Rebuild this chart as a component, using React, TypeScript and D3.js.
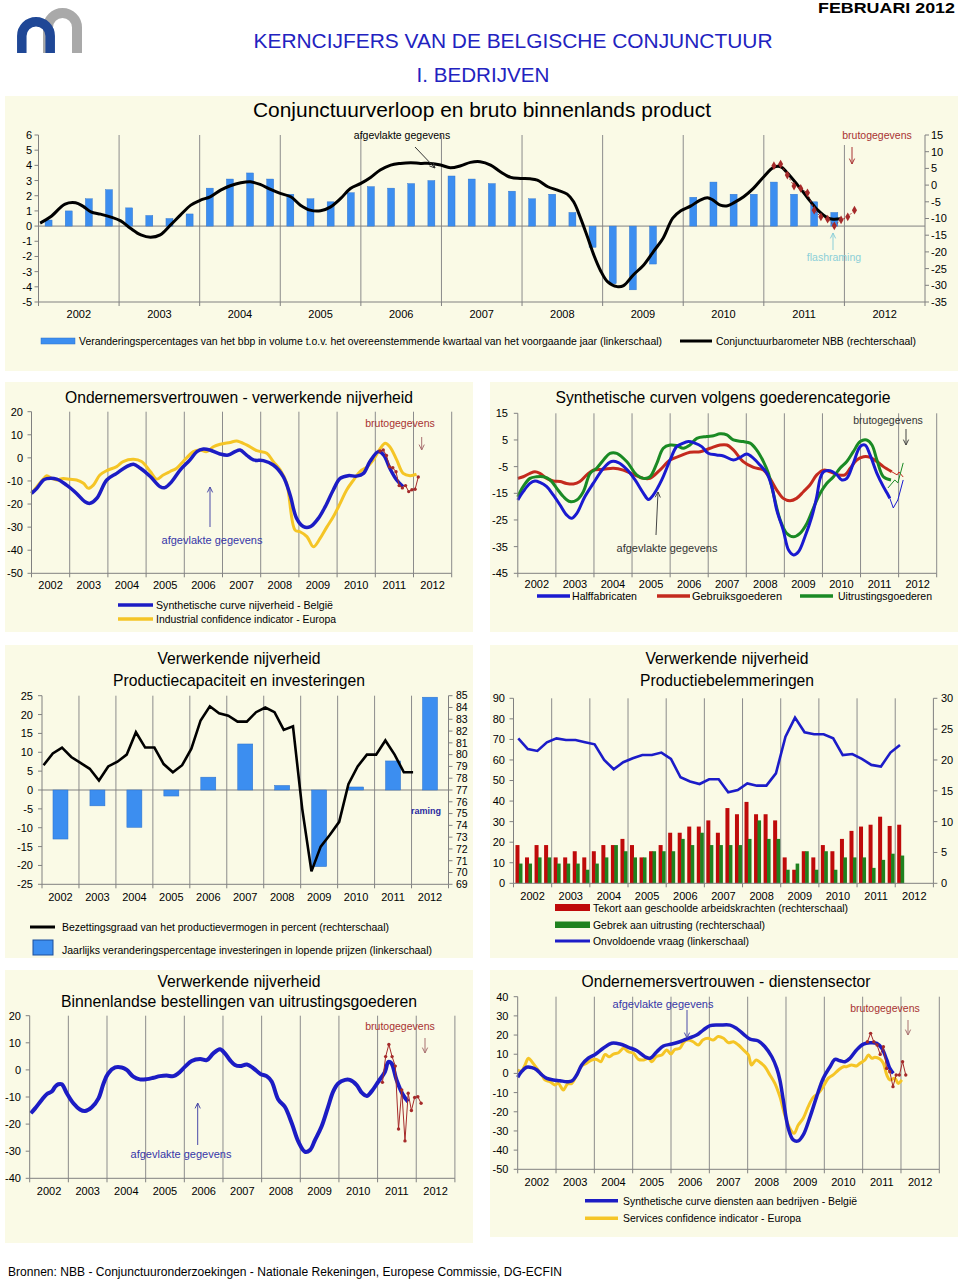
import React from "react";
import * as d3 from "d3";

const FONT = "'Liberation Sans', Arial, Helvetica, sans-serif";
const BG = "#fafae6";
const AXIS = "#808080";
const GRIDC = "#8c8c8c";
const RAW = "#a52a2a";
const BLUE_TXT = "#3636a8";
const BAR_BLUE = "#3c8ef0";

type Pt = [number, number];

// ---------------- DATA ----------------
const YEARS = [2002, 2003, 2004, 2005, 2006, 2007, 2008, 2009, 2010, 2011, 2012];

// Panel 1: GDP y/y quarterly 2002Q1..2011Q4 (left scale)
const gdpQ = [0.4, 1.0, 1.8, 2.4, 1.2, 0.7, 0.5, 0.8, 2.5, 3.1, 3.5, 3.1, 2.1, 1.8, 1.6, 2.2, 2.6, 2.5, 2.8, 3.0,
  3.3, 3.1, 2.8, 2.3, 1.8, 2.1, 0.9, -1.4, -3.8, -4.2, -2.5, 0, 1.9, 2.9, 2.1, 2.1, 2.9, 2.1, 1.6, 0.9];
// Conjunctuurbarometer NBB smoothed (right scale)
const baro: Pt[] = [[2002.02, -11.4], [2002.15, -9.5], [2002.33, -5.7], [2002.46, -5.3], [2002.55, -6.3], [2002.65, -8.0], [2002.77, -8.7], [2002.89, -9.5], [2003.02, -10.7], [2003.14, -12.9], [2003.27, -14.9], [2003.39, -15.6], [2003.51, -14.9], [2003.64, -11.9], [2003.76, -9.0], [2003.89, -6.0], [2004.01, -4.5], [2004.13, -3.5], [2004.26, -1.5], [2004.38, -0.2], [2004.51, 0.7], [2004.63, 1.0], [2004.75, 0.2], [2004.88, -1.3], [2005.00, -2.5], [2005.13, -3.5], [2005.25, -6.0], [2005.37, -7.5], [2005.50, -7.7], [2005.62, -6.6], [2005.75, -4.0], [2005.87, -1.0], [2006.00, 0.5], [2006.12, 2.3], [2006.24, 4.5], [2006.37, 6.0], [2006.49, 6.5], [2006.62, 6.7], [2006.74, 6.5], [2006.86, 6.5], [2006.99, 6.0], [2007.11, 5.2], [2007.24, 5.8], [2007.36, 6.8], [2007.48, 7.0], [2007.61, 6.0], [2007.73, 4.0], [2007.86, 2.3], [2007.98, 2.0], [2008.10, 1.9], [2008.19, 1.5], [2008.32, -0.5], [2008.44, -1.5], [2008.56, -2.7], [2008.64, -5.0], [2008.72, -9.5], [2008.81, -15.4], [2008.89, -20.9], [2008.97, -25.4], [2009.06, -28.9], [2009.18, -30.4], [2009.26, -30.1], [2009.38, -26.9], [2009.51, -23.9], [2009.63, -19.9], [2009.75, -15.9], [2009.87, -9.9], [2009.97, -7.7], [2010.09, -6.3], [2010.21, -4.5], [2010.30, -3.8], [2010.37, -4.5], [2010.46, -6.0], [2010.55, -6.2], [2010.62, -5.4], [2010.75, -3.5], [2010.87, -1.0], [2011.00, 2.5], [2011.12, 5.3], [2011.21, 5.5], [2011.29, 3.7], [2011.42, 0.0], [2011.54, -3.7], [2011.67, -7.5], [2011.79, -9.8], [2011.86, -10.2], [2011.95, -10.1]];
// raw monthly Feb 2011..Feb 2012
const baroRaw = [5.8, 6.3, 3.0, -0.3, -1.0, -2.3, -7.5, -9.5, -10.2, -12.2, -10.4, -9.5, -7.5];

// Panel 2
const mfgBE: Pt[] = [[2002.00, -15.4], [2002.14, -13.2], [2002.31, -9.6], [2002.40, -9.0], [2002.66, -9.2], [2002.92, -11.8], [2003.18, -15.4], [2003.40, -19.0], [2003.53, -19.7], [2003.71, -17.5], [2003.97, -9.6], [2004.23, -6.7], [2004.49, -3.8], [2004.67, -2.8], [2004.85, -4.5], [2005.11, -8.1], [2005.37, -12.5], [2005.49, -12.9], [2005.67, -10.3], [2005.89, -5.3], [2006.15, -0.9], [2006.33, 2.7], [2006.50, 3.8], [2006.67, 3.4], [2006.93, 1.7], [2007.15, 1.2], [2007.33, 2.7], [2007.46, 3.4], [2007.63, 1.2], [2007.81, -0.9], [2008.07, -1.2], [2008.33, -3.1], [2008.59, -8.1], [2008.77, -16.1], [2008.94, -26.2], [2009.12, -29.8], [2009.30, -29.8], [2009.51, -26.2], [2009.69, -21.1], [2009.90, -13.9], [2010.08, -8.9], [2010.29, -7.7], [2010.51, -7.9], [2010.69, -6.7], [2010.86, -1.6], [2011.08, 2.7], [2011.22, 1.2], [2011.38, -4.5], [2011.56, -9.6], [2011.73, -12.5]];
const mfgEU: Pt[] = [[2002.00, -15.4], [2002.14, -12.5], [2002.31, -9.2], [2002.40, -7.7], [2002.53, -8.9], [2002.66, -9.6], [2002.83, -8.9], [2003.01, -9.3], [2003.18, -9.6], [2003.36, -11.0], [2003.49, -13.2], [2003.62, -11.8], [2003.79, -7.4], [2003.97, -5.5], [2004.23, -3.8], [2004.40, -1.6], [2004.67, -0.6], [2004.88, -1.6], [2005.11, -5.9], [2005.28, -9.2], [2005.45, -7.4], [2005.63, -5.9], [2005.80, -4.5], [2005.97, -1.6], [2006.24, 2.7], [2006.41, 3.4], [2006.59, 2.7], [2006.76, 4.8], [2006.94, 5.9], [2007.20, 6.7], [2007.37, 7.3], [2007.63, 5.6], [2007.90, 3.1], [2008.16, 2.0], [2008.33, -1.6], [2008.51, -5.2], [2008.68, -11.0], [2008.90, -31.3], [2009.03, -32.0], [2009.21, -34.1], [2009.38, -38.5], [2009.55, -35.0], [2009.73, -30.0], [2009.90, -25.5], [2010.08, -19.7], [2010.25, -13.9], [2010.43, -9.6], [2010.60, -5.9], [2010.78, -4.0], [2010.95, -0.9], [2011.13, 4.1], [2011.26, 6.3], [2011.38, 4.8], [2011.56, -0.9], [2011.73, -6.7], [2011.91, -7.7], [2012.08, -7.1]];
const mfgRaw = [3.0, 3.4, 1.0, -3.9, -4.3, -6.0, -12.0, -13.0, -12.0, -14.6, -13.8, -13.6, -8.3];

// Panel 3
const halfT = [2002.00, 2002.14, 2002.32, 2002.45, 2002.58, 2002.76, 2002.93, 2003.11, 2003.28, 2003.41, 2003.55, 2003.76, 2003.98, 2004.25, 2004.46, 2004.64, 2004.86, 2005.08, 2005.30, 2005.43, 2005.56, 2005.78, 2006.00, 2006.17, 2006.30, 2006.48, 2006.65, 2006.83, 2007.00, 2007.22, 2007.40, 2007.66, 2007.84, 2008.01, 2008.19, 2008.36, 2008.54, 2008.67, 2008.80, 2008.97, 2009.11, 2009.24, 2009.37, 2009.54, 2009.72, 2009.85, 2009.94, 2010.03, 2010.20, 2010.38, 2010.51, 2010.64, 2010.81, 2010.99, 2011.12, 2011.25, 2011.43, 2011.60, 2011.70, 2011.77];
const halfV = [-17.5, -14.4, -11.3, -10.4, -10.9, -12.5, -15.6, -19.4, -23.1, -24.4, -22.5, -16.3, -11.3, -5.6, -3.1, -3.5, -6.0, -10.0, -15.0, -17.3, -15.6, -10.0, -2.5, 2.5, 3.5, 4.4, 3.8, 2.5, 0.0, -0.6, -1.0, -2.5, -1.5, -0.3, -1.9, -4.4, -7.5, -12.5, -21.3, -28.8, -36.3, -38.1, -36.9, -31.3, -23.8, -16.3, -9.4, -6.9, -6.5, -8.1, -10.0, -9.4, -3.8, 2.5, 3.1, -0.6, -7.5, -12.5, -15.0, -16.9];
const halfRaw: Pt[] = [[2011.77, -16.9], [2011.86, -20.5], [2011.98, -17.5], [2012.12, -10.0]];
const gebrT = [2002.00, 2002.14, 2002.32, 2002.45, 2002.58, 2002.76, 2002.93, 2003.11, 2003.28, 2003.46, 2003.63, 2003.81, 2003.98, 2004.25, 2004.51, 2004.77, 2005.03, 2005.30, 2005.47, 2005.73, 2006.00, 2006.26, 2006.52, 2006.79, 2007.05, 2007.31, 2007.49, 2007.66, 2007.92, 2008.19, 2008.45, 2008.62, 2008.80, 2008.97, 2009.15, 2009.32, 2009.50, 2009.67, 2009.85, 2010.03, 2010.20, 2010.42, 2010.59, 2010.73, 2010.90, 2011.08, 2011.25, 2011.43, 2011.60, 2011.82];
const gebrV = [-9.4, -8.8, -7.5, -6.9, -7.5, -9.4, -10.4, -10.6, -11.3, -11.5, -10.6, -8.1, -6.3, -6.0, -5.6, -6.3, -7.9, -9.4, -9.4, -6.3, -2.5, -1.0, 0.4, 0.6, 1.9, 3.1, 3.1, 1.3, -3.1, -5.3, -6.3, -9.4, -13.8, -16.9, -17.8, -16.9, -14.4, -11.9, -8.1, -6.3, -6.9, -8.1, -8.1, -5.6, -2.5, -1.3, -1.5, -3.1, -5.0, -6.9];
const gebrRaw: Pt[] = [[2011.82, -6.9], [2011.96, -8.1], [2012.01, -7.0], [2012.12, -8.9]];
const uitrT = [2002.00, 2002.14, 2002.32, 2002.49, 2002.67, 2002.85, 2003.02, 2003.20, 2003.37, 2003.55, 2003.72, 2003.90, 2004.07, 2004.25, 2004.42, 2004.60, 2004.86, 2005.12, 2005.30, 2005.47, 2005.65, 2005.82, 2006.00, 2006.17, 2006.35, 2006.52, 2006.70, 2006.96, 2007.14, 2007.31, 2007.49, 2007.66, 2007.92, 2008.10, 2008.27, 2008.45, 2008.58, 2008.71, 2008.89, 2009.06, 2009.24, 2009.41, 2009.59, 2009.76, 2009.94, 2010.11, 2010.29, 2010.46, 2010.64, 2010.81, 2010.99, 2011.16, 2011.30, 2011.43, 2011.60, 2011.80];
const uitrV = [-16.3, -12.5, -9.4, -8.8, -8.8, -10.0, -13.1, -16.3, -18.1, -17.5, -14.4, -7.5, -5.6, -2.5, 0.0, 0.0, -3.1, -8.1, -9.4, -8.8, -3.8, 1.9, 3.1, 2.9, 1.9, 3.1, 5.6, 6.3, 6.6, 7.3, 6.9, 5.0, 4.4, 3.8, 1.3, -3.1, -7.5, -15.0, -25.0, -30.0, -31.3, -30.0, -26.3, -20.6, -15.0, -11.3, -8.8, -5.6, -3.1, 0.6, 4.4, 5.0, 3.1, -2.5, -8.8, -10.0];
const uitrRaw: Pt[] = [[2011.72, -13.0], [2011.90, -10.0], [2011.98, -11.1], [2012.12, -3.6]];

// Panel 4
const invest = [-13.0, -4.2, -9.9, -1.6, 3.4, 12.2, 1.2, -20.3, 0.8, 7.7, 24.6];
const capUtil = [79.1, 80.1, 80.6, 79.8, 79.3, 78.8, 77.8, 79.0, 79.4, 80.0, 81.9, 80.6, 80.6, 79.2, 78.5, 79.1, 80.5, 82.9, 84.1, 83.5, 83.3, 82.8, 82.8, 83.6, 84.0, 83.6, 82.1, 82.4, 75.4, 70.1, 72.2, 73.2, 74.3, 77.5, 79.0, 80.0, 80.0, 81.2, 80.0, 78.5, 78.5];

// Panel 5
const tekort = [6.2, 4.2, 6.2, 6.2, 4.2, 4.2, 5.2, 4.2, 5.2, 6.2, 6.2, 7.2, 6.2, 4.2, 5.2, 6.2, 8.2, 8.2, 9.2, 9.2, 10.2, 8.2, 12.2, 11.2, 13.2, 11.2, 11.2, 10.2, 4.2, 2.2, 5.2, 4.2, 6.2, 5.2, 7.2, 8.5, 9.2, 9.5, 10.8, 9.3, 9.5];
const gebrek = [3.2, 3.2, 4.2, 4.2, 3.2, 3.2, 3.2, 2.2, 3.2, 4.2, 6.2, 5.2, 4.2, 4.2, 5.2, 5.2, 5.2, 7.2, 6.2, 8.2, 6.2, 6.2, 6.2, 6.2, 7.2, 10.2, 7.2, 7.2, 2.2, 3.2, 5.2, 2.2, 5.2, 2.2, 4.2, 4.2, 4.2, 2.5, 3.8, 4.8, 4.5];
const vraag = [70.5, 65.3, 64.4, 68.6, 70.5, 69.7, 69.7, 68.6, 67.6, 60.0, 55.5, 58.9, 60.8, 62.4, 62.4, 63.6, 60.5, 51.6, 49.5, 48.3, 50.6, 50.6, 44.3, 45.4, 48.6, 47.5, 47.5, 53.5, 71.3, 80.6, 73.5, 72.5, 72.5, 70.5, 62.4, 62.9, 60.5, 57.6, 56.8, 63.6, 67.3];

// Panel 6
const orders: Pt[] = [[2002.03, -16.0], [2002.14, -14.2], [2002.31, -11.1], [2002.44, -9.0], [2002.57, -8.0], [2002.66, -6.2], [2002.74, -5.3], [2002.83, -5.3], [2002.96, -8.6], [2003.13, -12.3], [2003.30, -14.6], [2003.43, -15.2], [2003.60, -13.9], [2003.78, -10.5], [2003.91, -5.0], [2004.03, -1.3], [2004.21, 0.9], [2004.38, 0.9], [2004.51, 0.0], [2004.68, -2.5], [2004.85, -3.5], [2005.03, -3.4], [2005.20, -2.9], [2005.37, -2.3], [2005.54, -2.1], [2005.72, -2.3], [2005.84, -1.3], [2006.02, 1.2], [2006.19, 3.3], [2006.41, 4.0], [2006.58, 3.6], [2006.75, 6.1], [2006.92, 7.6], [2007.05, 6.1], [2007.18, 3.6], [2007.31, 1.8], [2007.44, 1.4], [2007.62, 2.0], [2007.79, 0.6], [2007.97, -1.5], [2008.13, -2.3], [2008.26, -4.3], [2008.43, -10.9], [2008.60, -13.6], [2008.78, -19.7], [2008.95, -26.5], [2009.12, -30.2], [2009.25, -29.6], [2009.38, -25.9], [2009.55, -20.9], [2009.72, -13.6], [2009.85, -8.0], [2009.98, -5.0], [2010.16, -3.7], [2010.28, -3.7], [2010.46, -5.6], [2010.59, -8.4], [2010.72, -9.6], [2010.84, -8.0], [2011.02, -4.3], [2011.19, -0.7], [2011.28, 3.0], [2011.36, 2.4], [2011.49, -3.7], [2011.66, -9.3], [2011.79, -11.7]];
const ordersRaw = [-4.6, 4.9, 9.4, 4.9, 1.4, -21.8, -7.4, -26.2, -8.6, -15.0, -10.2, -9.9, -12.3];

// Panel 7
const servBE: Pt[] = [[2002.00, -2.0], [2002.10, 0.9], [2002.23, 3.2], [2002.37, 3.0], [2002.50, 1.8], [2002.63, -0.8], [2002.76, -2.6], [2002.93, -3.4], [2003.10, -3.8], [2003.28, -4.3], [2003.41, -4.0], [2003.54, -0.8], [2003.67, 4.4], [2003.84, 7.9], [2004.02, 9.9], [2004.23, 13.1], [2004.45, 15.7], [2004.67, 15.3], [2004.89, 13.6], [2005.10, 11.9], [2005.32, 8.7], [2005.45, 7.9], [2005.63, 11.3], [2005.80, 14.3], [2006.02, 15.3], [2006.23, 16.5], [2006.45, 18.3], [2006.67, 20.0], [2006.84, 22.6], [2007.02, 24.9], [2007.28, 25.2], [2007.54, 25.2], [2007.71, 23.5], [2007.89, 20.5], [2008.06, 17.9], [2008.28, 16.9], [2008.45, 13.9], [2008.63, 8.7], [2008.76, 2.6], [2008.84, -3.4], [2008.93, -13.9], [2009.06, -28.6], [2009.19, -34.7], [2009.32, -35.2], [2009.45, -32.1], [2009.63, -22.5], [2009.80, -12.1], [2009.97, -2.6], [2010.15, 3.5], [2010.28, 7.3], [2010.41, 6.6], [2010.54, 6.1], [2010.67, 7.9], [2010.84, 12.2], [2011.02, 15.3], [2011.19, 16.0], [2011.37, 15.7], [2011.50, 13.1], [2011.63, 7.0], [2011.71, 2.6], [2011.80, 0.0]];
const servEU: Pt[] = [[2002.00, 1.8], [2002.10, 1.3], [2002.19, 4.4], [2002.28, 7.9], [2002.37, 6.1], [2002.50, 2.6], [2002.63, -0.8], [2002.71, -3.4], [2002.84, -4.3], [2002.97, -6.0], [2003.06, -5.2], [2003.19, -8.6], [2003.30, -5.5], [2003.41, -5.2], [2003.54, -0.8], [2003.67, 3.9], [2003.80, 5.3], [2003.93, 7.0], [2004.06, 7.3], [2004.17, 6.1], [2004.28, 9.9], [2004.39, 8.7], [2004.50, 10.1], [2004.63, 10.8], [2004.76, 13.1], [2004.89, 11.3], [2005.02, 10.5], [2005.15, 7.3], [2005.28, 7.0], [2005.41, 7.9], [2005.50, 6.1], [2005.61, 8.7], [2005.76, 9.6], [2005.89, 12.2], [2006.00, 10.1], [2006.10, 12.5], [2006.23, 13.1], [2006.34, 16.5], [2006.45, 17.4], [2006.58, 16.5], [2006.71, 14.8], [2006.83, 17.4], [2006.97, 18.3], [2007.10, 17.4], [2007.23, 19.2], [2007.37, 18.3], [2007.50, 16.0], [2007.63, 16.5], [2007.76, 14.8], [2007.89, 12.2], [2008.02, 9.6], [2008.10, 4.4], [2008.22, 7.0], [2008.32, 5.8], [2008.45, 3.5], [2008.58, -0.8], [2008.71, -5.2], [2008.84, -12.1], [2008.97, -21.7], [2009.10, -28.6], [2009.21, -31.2], [2009.32, -26.9], [2009.45, -23.4], [2009.58, -17.3], [2009.71, -12.5], [2009.84, -10.4], [2009.97, -6.9], [2010.10, -2.6], [2010.23, -0.8], [2010.37, 1.8], [2010.50, 3.5], [2010.58, 3.5], [2010.71, 4.4], [2010.84, 3.9], [2010.93, 5.3], [2011.06, 7.0], [2011.15, 9.6], [2011.24, 7.9], [2011.32, 8.4], [2011.45, 7.5], [2011.54, 5.3], [2011.63, -0.8], [2011.71, -3.4], [2011.84, -2.6], [2011.93, -5.2], [2012.02, -3.4]];
const servRaw = [16.5, 20.9, 16.5, 14.8, 9.9, 13.9, 2.6, 0.9, -6.9, -0.8, -0.8, 6.1, -0.8];

// ---------------- HELPERS ----------------
const monthT = (year: number, month: number, k: number) => year + (month - 1 + k + 0.5) / 12;
const zip = (t: number[], v: number[]): Pt[] => t.map((tt, i) => [tt, v[i]] as Pt);
const smoothLine = (x: any, y: any) => d3.line<Pt>().x(d => x(d[0])).y(d => y(d[1])).curve(d3.curveCatmullRom.alpha(0.5));
const straightLine = (x: any, y: any) => d3.line<Pt>().x(d => x(d[0])).y(d => y(d[1]));

function Txt(p: any) {
  const { x, y, s = 11, anchor = "start", w, fill = "#000", weight, children } = p;
  return (
    <text x={x} y={y} fontSize={s} textAnchor={anchor} fill={fill} fontWeight={weight} fontFamily={FONT}
      textLength={w} lengthAdjust={w ? "spacingAndGlyphs" : undefined}>{children}</text>
  );
}

function Arrow({ x1, y1, x2, y2, c = "#000", h = 6 }: any) {
  const a = Math.atan2(y2 - y1, x2 - x1);
  const p1 = [x2 - h * Math.cos(a - 0.45), y2 - h * Math.sin(a - 0.45)];
  const p2 = [x2 - h * Math.cos(a + 0.45), y2 - h * Math.sin(a + 0.45)];
  return (
    <g stroke={c} fill="none" strokeWidth={1}>
      <line x1={x1} y1={y1} x2={x2} y2={y2} />
      <polyline points={`${p1[0]},${p1[1]} ${x2},${y2} ${p2[0]},${p2[1]}`} />
    </g>
  );
}

function XYears({ x, y, ly, s = 11 }: any) {
  return (
    <g>
      <line x1={x(2002)} x2={x(2013)} y1={y} y2={y} stroke={AXIS} />
      {d3.range(2002, 2014).map(b => <line key={b} x1={x(b)} x2={x(b)} y1={y} y2={y + 4} stroke={AXIS} />)}
      {YEARS.map(yr => <Txt key={yr} x={x(yr + 0.5)} y={ly} s={s} anchor="middle">{yr}</Txt>)}
    </g>
  );
}

function VGrid({ x, y0, y1, from = 2003, to = 2013 }: any) {
  return (
    <g>
      {d3.range(from, to + 1).map(b => <line key={b} x1={x(b)} x2={x(b)} y1={y0} y2={y1} stroke={GRIDC} strokeWidth={1} />)}
    </g>
  );
}

function YAx({ y, ticks, ax, side = "left", s = 11, lx }: any) {
  const [d0, d1] = y.domain();
  const dir = side === "left" ? -1 : 1;
  return (
    <g>
      <line x1={ax} x2={ax} y1={y(d0)} y2={y(d1)} stroke={AXIS} />
      {ticks.map((t: number) => (
        <g key={t}>
          <line x1={ax} x2={ax + dir * 4} y1={y(t)} y2={y(t)} stroke={AXIS} />
          <Txt x={lx} y={y(t) + s * 0.36} s={s} anchor={side === "left" ? "end" : "start"}>{String(t)}</Txt>
        </g>
      ))}
    </g>
  );
}

function RawLine({ pts, x, y, dash, diamond }: any) {
  const ln = straightLine(x, y);
  const sym = d3.symbol().type(diamond ? d3.symbolDiamond : d3.symbolCircle).size(diamond ? 22 : 9);
  return (
    <g>
      <path d={ln(pts) || ""} fill="none" stroke={RAW} strokeWidth={1} strokeDasharray={dash ? "2,2" : undefined} />
      {pts.map((p: Pt, i: number) => (
        <path key={i} d={sym() || ""} transform={`translate(${x(p[0])},${y(p[1])})`} fill={RAW} />
      ))}
    </g>
  );
}

// ---------------- HEADER ----------------
function Header() {
  return (
    <g>
      <path d="M48,53 V27.5 A14.5,14.5 0 0 1 77,27.5 V53" stroke="#a9a9a9" strokeWidth={10} fill="none" />
      <path d="M21.8,53 V36 A14.2,14.2 0 0 1 50.2,36 V53" stroke="#1f4796" strokeWidth={9.5} fill="none" />
      <Txt x={955} y={13} s={15} anchor="end" weight="bold" w={137}>FEBRUARI 2012</Txt>
      <Txt x={513} y={48} s={20} anchor="middle" fill="#2222c0" w={519}>KERNCIJFERS VAN DE BELGISCHE CONJUNCTUUR</Txt>
      <Txt x={483} y={82} s={20} anchor="middle" fill="#2222c0" w={133}>I. BEDRIJVEN</Txt>
    </g>
  );
}

// ---------------- PANEL 1 ----------------
function Panel1() {
  const x = d3.scaleLinear().domain([2002, 2013]).range([38.5, 925]);
  const yL = d3.scaleLinear().domain([-5, 6]).range([302, 135]);
  const yR = d3.scaleLinear().domain([-35, 15]).range([302, 135]);
  const line = smoothLine(x, yR);
  const raw: Pt[] = baroRaw.map((v, k) => [monthT(2011, 2, k), v]);
  return (
    <g>
      <rect x={5} y={96} width={953} height={275} fill={BG} />
      <Txt x={482} y={117} s={20} anchor="middle" w={458}>Conjunctuurverloop en bruto binnenlands product</Txt>
      <VGrid x={x} y0={135} y1={302} from={2003} to={2011} />
      <line x1={x(2012)} x2={x(2012)} y1={145} y2={302} stroke={GRIDC} />
      <line x1={x(2002)} x2={x(2013)} y1={yL(0)} y2={yL(0)} stroke={AXIS} />
      {gdpQ.map((v, i) => {
        const cx = x(2002 + (i + 0.5) / 4);
        return <rect key={i} x={cx - 3.5} width={7} y={Math.min(yL(v), yL(0))} height={Math.abs(yL(v) - yL(0))} fill={BAR_BLUE} stroke="#2d70c8" strokeWidth={0.4} />;
      })}
      <path d={line(baro) || ""} fill="none" stroke="#000" strokeWidth={3} />
      <RawLine pts={raw} x={x} y={yR} dash diamond />
      <YAx y={yL} ticks={d3.range(-5, 7)} ax={38.5} lx={32} s={11} />
      <YAx y={yR} ticks={d3.range(-35, 16, 5)} ax={925} side="right" lx={931} s={11} />
      <XYears x={x} y={302} ly={318} s={11} />
      <Txt x={402} y={139} s={10.5} anchor="middle">afgevlakte gegevens</Txt>
      <Arrow x1={415} y1={147} x2={435} y2={168} c="#333" />
      <Txt x={877} y={139} s={10.5} anchor="middle" fill="#a83232">brutogegevens</Txt>
      <Arrow x1={852} y1={147} x2={852} y2={164} c="#a83232" />
      <Txt x={834} y={261} s={10.5} anchor="middle" fill="#8ccfd8">flashraming</Txt>
      <Arrow x1={833} y1={250} x2={833} y2={233} c="#8ccfd8" />
      <rect x={41} y={338} width={34} height={6} fill={BAR_BLUE} stroke="#2d70c8" strokeWidth={0.5} />
      <Txt x={79} y={345} s={10.5} w={583}>Veranderingspercentages van het bbp in volume t.o.v. het overeenstemmende kwartaal van het voorgaande jaar (linkerschaal)</Txt>
      <line x1={680} x2={712} y1={341} y2={341} stroke="#000" strokeWidth={3} />
      <Txt x={716} y={345} s={10.5} w={200}>Conjunctuurbarometer NBB (rechterschaal)</Txt>
    </g>
  );
}

// ---------------- PANEL 2 ----------------
function Panel2() {
  const x = d3.scaleLinear().domain([2002, 2013]).range([31.5, 451.7]);
  const y = d3.scaleLinear().domain([-50, 20]).range([573.3, 411.7]);
  const line = smoothLine(x, y);
  const raw: Pt[] = mfgRaw.map((v, k) => [monthT(2011, 2, k), v]);
  return (
    <g>
      <rect x={5} y={382} width={468} height={250} fill={BG} />
      <Txt x={239} y={403} s={17} anchor="middle" w={348}>Ondernemersvertrouwen - verwerkende nijverheid</Txt>
      <VGrid x={x} y0={411.7} y1={573.3} />
      <path d={line(mfgEU) || ""} fill="none" stroke="#f5c526" strokeWidth={3} />
      <path d={line(mfgBE) || ""} fill="none" stroke="#1c1cc4" strokeWidth={3.5} />
      <RawLine pts={raw} x={x} y={y} />
      <YAx y={y} ticks={d3.range(-50, 21, 10)} ax={31.5} lx={23} />
      <XYears x={x} y={573.3} ly={589} />
      <Txt x={400} y={427} s={10.5} anchor="middle" fill="#a83232">brutogegevens</Txt>
      <Arrow x1={421.7} y1={437} x2={421.7} y2={450} c="#a87070" />
      <Txt x={212} y={544} s={11} anchor="middle" fill={BLUE_TXT}>afgevlakte gegevens</Txt>
      <Arrow x1={210} y1={527} x2={210} y2={487} c="#4a4aa8" />
      <line x1={118} x2={153} y1={605} y2={605} stroke="#1c1cc4" strokeWidth={3.5} />
      <Txt x={156} y={609} s={10.5} w={177}>Synthetische curve nijverheid - België</Txt>
      <line x1={118} x2={153} y1={619} y2={619} stroke="#f5c526" strokeWidth={3.5} />
      <Txt x={156} y={623} s={10.5} w={180}>Industrial confidence indicator - Europa</Txt>
    </g>
  );
}

// ---------------- PANEL 3 ----------------
function Panel3() {
  const x = d3.scaleLinear().domain([2002, 2013]).range([517.8, 936.7]);
  const y = d3.scaleLinear().domain([-45, 15]).range([573.3, 413.3]);
  const line = smoothLine(x, y);
  const thin = straightLine(x, y);
  const cH = "#1a1ad0", cG = "#c42a1e", cU = "#1a8a24";
  return (
    <g>
      <rect x={490} y={382} width={468} height={250} fill={BG} />
      <Txt x={723} y={403} s={17} anchor="middle" w={335}>Synthetische curven volgens goederencategorie</Txt>
      <VGrid x={x} y0={413.3} y1={573.3} />
      <path d={line(zip(gebrT, gebrV)) || ""} fill="none" stroke={cG} strokeWidth={3} />
      <path d={line(zip(uitrT, uitrV)) || ""} fill="none" stroke={cU} strokeWidth={3} />
      <path d={line(zip(halfT, halfV)) || ""} fill="none" stroke={cH} strokeWidth={3} />
      <path d={thin(halfRaw) || ""} fill="none" stroke={cH} strokeWidth={1} />
      <path d={thin(gebrRaw) || ""} fill="none" stroke={cG} strokeWidth={1} />
      <path d={thin(uitrRaw) || ""} fill="none" stroke={cU} strokeWidth={1} />
      <YAx y={y} ticks={d3.range(-45, 16, 10)} ax={517.8} lx={508} />
      <XYears x={x} y={573.3} ly={588} />
      <Txt x={888} y={424} s={10.5} anchor="middle" fill="#333">brutogegevens</Txt>
      <Arrow x1={906} y1={429} x2={906} y2={445} c="#444" />
      <Txt x={667} y={552} s={11} anchor="middle" fill="#333">afgevlakte gegevens</Txt>
      <Arrow x1={656} y1={535} x2={658} y2={492} c="#444" />
      <line x1={537} x2={570} y1={596} y2={596} stroke={cH} strokeWidth={3.5} />
      <Txt x={572} y={600} s={10.5} w={65}>Halffabricaten</Txt>
      <line x1={657} x2={690} y1={596} y2={596} stroke={cG} strokeWidth={3.5} />
      <Txt x={692} y={600} s={10.5} w={90}>Gebruiksgoederen</Txt>
      <line x1={800} x2={833} y1={596} y2={596} stroke={cU} strokeWidth={3.5} />
      <Txt x={838} y={600} s={10.5} w={94}>Uitrustingsgoederen</Txt>
    </g>
  );
}

// ---------------- PANEL 4 ----------------
function Panel4() {
  const x = d3.scaleLinear().domain([2002, 2013]).range([42, 448.5]);
  const yL = d3.scaleLinear().domain([-25, 25]).range([884.3, 695.7]);
  const yR = d3.scaleLinear().domain([69, 85]).range([884.3, 695.7]);
  const line = straightLine(x, yR);
  const capPts: Pt[] = capUtil.map((v, k) => [2002 + k / 4 + 1 / 24, v]);
  return (
    <g>
      <rect x={5} y={645} width={468} height={313} fill={BG} />
      <Txt x={239} y={664} s={17} anchor="middle" w={163}>Verwerkende nijverheid</Txt>
      <Txt x={239} y={686} s={17} anchor="middle" w={252}>Productiecapaciteit en investeringen</Txt>
      <VGrid x={x} y0={695.7} y1={884.3} from={2003} to={2012} />
      <line x1={x(2002)} x2={x(2013)} y1={yL(0)} y2={yL(0)} stroke={AXIS} />
      {invest.map((v, i) => {
        const cx = x(YEARS[i] + 0.5);
        return <rect key={i} x={cx - 7.5} width={15} y={Math.min(yL(v), yL(0))} height={Math.abs(yL(v) - yL(0))} fill={BAR_BLUE} stroke="#2d70c8" strokeWidth={0.5} />;
      })}
      <path d={line(capPts) || ""} fill="none" stroke="#000" strokeWidth={2.6} />
      <YAx y={yL} ticks={d3.range(-25, 26, 5)} ax={42} lx={33} s={11} />
      <YAx y={yR} ticks={d3.range(69, 86)} ax={448.5} side="right" lx={456} s={10.5} />
      <XYears x={x} y={884.3} ly={901} />
      <Txt x={426} y={814} s={9} anchor="middle" weight="bold" fill="#2a2aa0">raming</Txt>
      <line x1={30} x2={55} y1={927} y2={927} stroke="#000" strokeWidth={3} />
      <Txt x={62} y={931} s={10.5} w={327}>Bezettingsgraad van het productievermogen in percent (rechterschaal)</Txt>
      <rect x={33} y={940} width={20} height={15} fill={BAR_BLUE} stroke="#1d4f9a" strokeWidth={1} />
      <Txt x={62} y={954} s={10.5} w={370}>Jaarlijks veranderingspercentage investeringen in lopende prijzen (linkerschaal)</Txt>
    </g>
  );
}

// ---------------- PANEL 5 ----------------
function Panel5() {
  const x = d3.scaleLinear().domain([2002, 2013]).range([513.5, 933.4]);
  const yL = d3.scaleLinear().domain([0, 90]).range([883.3, 698.3]);
  const yR = d3.scaleLinear().domain([0, 30]).range([883.3, 698.3]);
  const line = straightLine(x, yL);
  const qc = (k: number) => x(2002 + (k + 0.5) / 4);
  const vPts: Pt[] = vraag.map((v, k) => [2002 + (k + 0.5) / 4, v]);
  const cR = "#bf0a0a", cGr = "#1f821f", cB = "#1c1cc8";
  return (
    <g>
      <rect x={490} y={645} width={468} height={313} fill={BG} />
      <Txt x={727} y={664} s={17} anchor="middle" w={163}>Verwerkende nijverheid</Txt>
      <Txt x={727} y={686} s={17} anchor="middle" w={174}>Productiebelemmeringen</Txt>
      <VGrid x={x} y0={698.3} y1={883.3} from={2003} to={2012} />
      {tekort.map((v, k) => <rect key={"r" + k} x={qc(k) - 2.8} width={4} y={yR(v)} height={yR(0) - yR(v)} fill={cR} />)}
      {gebrek.map((v, k) => <rect key={"g" + k} x={qc(k) + 0.6} width={3.6} y={yR(v)} height={yR(0) - yR(v)} fill={cGr} />)}
      <path d={line(vPts) || ""} fill="none" stroke={cB} strokeWidth={2.6} />
      <YAx y={yL} ticks={d3.range(0, 91, 10)} ax={513.5} lx={505} />
      <YAx y={yR} ticks={d3.range(0, 31, 5)} ax={933.4} side="right" lx={941} />
      <XYears x={x} y={883.3} ly={899.5} />
      <rect x={555} y={904} width={35} height={7} fill={cR} />
      <Txt x={593} y={911.5} s={10.5} w={255}>Tekort aan geschoolde arbeidskrachten (rechterschaal)</Txt>
      <rect x={555} y={921.5} width={35} height={6.5} fill={cGr} />
      <Txt x={593} y={929} s={10.5} w={172}>Gebrek aan uitrusting (rechterschaal)</Txt>
      <line x1={555} x2={590} y1={941} y2={941} stroke={cB} strokeWidth={3} />
      <Txt x={593} y={945} s={10.5} w={156}>Onvoldoende vraag (linkerschaal)</Txt>
    </g>
  );
}

// ---------------- PANEL 6 ----------------
function Panel6() {
  const x = d3.scaleLinear().domain([2002, 2013]).range([29.7, 454.9]);
  const y = d3.scaleLinear().domain([-40, 20]).range([1178.3, 1015.7]);
  const line = smoothLine(x, y);
  const raw: Pt[] = ordersRaw.map((v, k) => [monthT(2011, 2, k), v]);
  return (
    <g>
      <rect x={5} y={970} width={468} height={273} fill={BG} />
      <Txt x={239} y={987} s={17} anchor="middle" w={163}>Verwerkende nijverheid</Txt>
      <Txt x={239} y={1007} s={17} anchor="middle" w={356}>Binnenlandse bestellingen van uitrustingsgoederen</Txt>
      <VGrid x={x} y0={1015.7} y1={1178.3} />
      <path d={line(orders) || ""} fill="none" stroke="#1c1cc4" strokeWidth={4} />
      <RawLine pts={raw} x={x} y={y} />
      <YAx y={y} ticks={d3.range(-40, 21, 10)} ax={29.7} lx={21} />
      <XYears x={x} y={1178.3} ly={1194.5} />
      <Txt x={400} y={1030} s={10.5} anchor="middle" fill="#a83232">brutogegevens</Txt>
      <Arrow x1={425} y1={1038} x2={425} y2={1053} c="#a87070" />
      <Txt x={181} y={1158} s={11} anchor="middle" fill={BLUE_TXT}>afgevlakte gegevens</Txt>
      <Arrow x1={197.7} y1={1145} x2={197.7} y2={1103} c="#4a4aa8" />
    </g>
  );
}

// ---------------- PANEL 7 ----------------
function Panel7() {
  const x = d3.scaleLinear().domain([2002, 2013]).range([517.7, 939.3]);
  const y = d3.scaleLinear().domain([-50, 40]).range([1169.3, 996.7]);
  const line = smoothLine(x, y);
  const raw: Pt[] = servRaw.map((v, k) => [monthT(2011, 2, k), v]);
  return (
    <g>
      <rect x={490} y={970} width={468} height={267} fill={BG} />
      <Txt x={726} y={987} s={17} anchor="middle" w={289}>Ondernemersvertrouwen - dienstensector</Txt>
      <VGrid x={x} y0={996.7} y1={1169.3} />
      <path d={line(servEU) || ""} fill="none" stroke="#f5c526" strokeWidth={3} />
      <path d={line(servBE) || ""} fill="none" stroke="#1c1cc4" strokeWidth={3.5} />
      <RawLine pts={raw} x={x} y={y} />
      <YAx y={y} ticks={d3.range(-50, 41, 10)} ax={517.7} lx={508.5} />
      <XYears x={x} y={1169.3} ly={1185.5} />
      <Txt x={663} y={1008} s={11} anchor="middle" fill={BLUE_TXT}>afgevlakte gegevens</Txt>
      <Arrow x1={687} y1={1010} x2={687} y2={1038} c="#4a4aa8" />
      <Txt x={885} y={1012} s={10.5} anchor="middle" fill="#a83232">brutogegevens</Txt>
      <Arrow x1={908} y1={1020} x2={908} y2={1035} c="#a87070" />
      <line x1={585} x2={618} y1={1200.7} y2={1200.7} stroke="#1c1cc4" strokeWidth={3.5} />
      <Txt x={623} y={1204.5} s={10.5} w={234}>Synthetische curve diensten aan bedrijven - België</Txt>
      <line x1={585} x2={618} y1={1218.3} y2={1218.3} stroke="#f5c526" strokeWidth={3.5} />
      <Txt x={623} y={1222} s={10.5} w={178}>Services confidence indicator - Europa</Txt>
    </g>
  );
}

export default function App() {
  return (
    <svg width={960} height={1281} viewBox="0 0 960 1281"
      style={{ position: "absolute", left: 0, top: 0, background: "#ffffff", display: "block" }}
      fontFamily={FONT}>
      <rect x={0} y={0} width={960} height={1281} fill="#ffffff" />
      <Header />
      <Panel1 />
      <Panel2 />
      <Panel3 />
      <Panel4 />
      <Panel5 />
      <Panel6 />
      <Panel7 />
      <Txt x={8} y={1276} s={12.5} w={554}>Bronnen: NBB - Conjunctuuronderzoekingen - Nationale Rekeningen, Europese Commissie, DG-ECFIN</Txt>
    </svg>
  );
}
